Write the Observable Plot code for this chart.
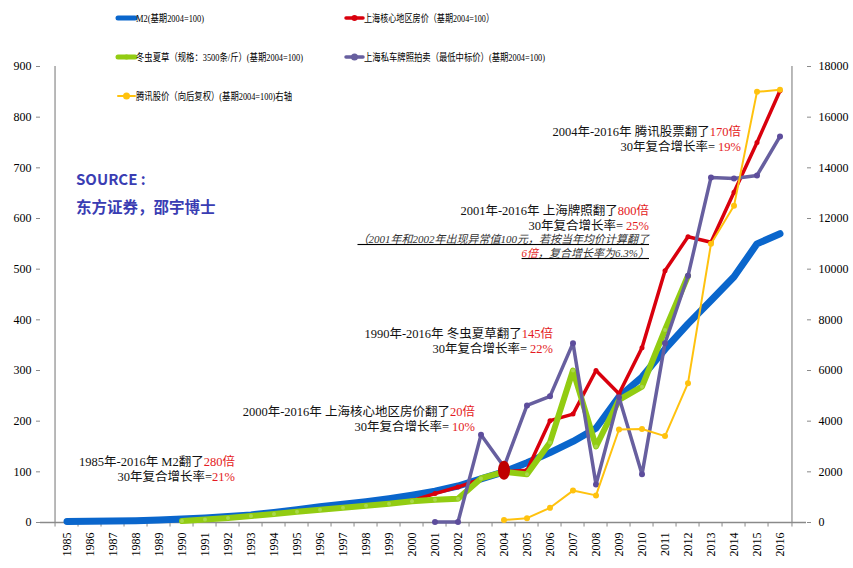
<!DOCTYPE html>
<html><head><meta charset="utf-8">
<script src="https://cdn.jsdelivr.net/npm/d3@7"></script>
<script src="https://cdn.jsdelivr.net/npm/@observablehq/plot@0.6"></script>
<style>
body{margin:0;background:#fff}
#chart{position:relative;width:853px;height:568px}
#chart svg [aria-label*="tick label"]{font-family:"Liberation Serif","Times New Roman",serif !important;font-size:12px !important}
</style>
</head><body><div id="chart"></div>
<script>
// ---------- data ----------
const years = [1985,1986,1987,1988,1989,1990,1991,1992,1993,1994,1995,1996,1997,1998,1999,2000,
               2001,2002,2003,2004,2005,2006,2007,2008,2009,2010,2011,2012,2013,2014,2015,2016];
const m2 =         [2,2.5,3,3.5,5,7,9,12,15,20,25,31,36,41,47,54,62,72,86,100,118,138,160,186,248,287,342,392,438,485,550,570];
const housePrice = [null,null,null,null,null,null,null,null,null,null,null,null,null,null,null,43,
                    57,70,86,100,103,201,214,300,254,345,497,564,553,652,750,852];
const cordyceps =  [null,null,null,null,null,3,6,9,13,17,21,25,29,33,37,42,
                    45,47,87,100,95,158,300,150,242,268,380,487,null,null,null,null];
const plate =      [null,null,null,null,null,null,null,null,null,null,null,null,null,null,null,null,
                    1,1,173,110,231,249,354,75,247,95,354,487,681,679,685,762];
const tencent =    [null,null,null,null,null,null,null,null,null,null,null,null,null,null,null,null,
                    null,null,null,100,170,580,1260,1070,3670,3690,3410,5500,11000,12500,17000,17080];
const leftTicks  = [0,100,200,300,400,500,600,700,800,900];
const rightTicks = [0,2000,4000,6000,8000,10000,12000,14000,16000,18000];

const legendLabels = [
  "M2(基期2004=100)",
  "上海核心地区房价（基期2004=100）",
  "冬虫夏草（规格：3500条/斤）(基期2004=100)",
  "上海私车牌照拍卖（最低中标价）(基期2004=100)",
  "腾讯股价（向后复权）(基期2004=100)右轴"
];
const notes = [
  [[["1985年-2016年 M2翻了",0],["280倍",1]], [["30年复合增长率=",0],["21%",1]]],
  [[["2000年-2016年 上海核心地区房价翻了",0],["20倍",1]], [["30年复合增长率= ",0],["10%",1]]],
  [[["1990年-2016年 冬虫夏草翻了",0],["145倍",1]], [["30年复合增长率= ",0],["22%",1]]],
  [[["2001年-2016年 上海牌照翻了",0],["800倍",1]], [["30年复合增长率= ",0],["25%",1]]],
  [[["2004年-2016年 腾讯股票翻了",0],["170倍",1]], [["30年复合增长率= ",0],["19%",1]]]
];
const italicNote = [[["（2001年和2002年出现异常值100元，若按当年均价计算翻了",0]], [["6倍",1],["，复合增长率为6.3%）",0]]];
const sourceLines = ["SOURCE :", "东方证券，邵宇博士"];

// ---------- style ----------
const C = {m2:"#0a66cc", house:"#d9000d", cord:"#92cc12", plate:"#675f9f", tx:"#ffc20e", axis:"#8a8a8a", note:"#e41a22", src:"#3a3db3"};
const serif = "Liberation Serif, Times New Roman, Noto Sans CJK SC, serif";
const W=853, H=568, ml=40, mr=47, mt=66, mb=46;
const bw = (W-ml-mr)/years.length;
const ratio = rightTicks[rightTicks.length-1]/leftTicks[leftTicks.length-1];
const tencentScaled = tencent.map(v => v == null ? null : v/ratio);

const ellipse = {draw(ctx){const rx=6,ry=9.5,k=0.5523;
  ctx.moveTo(rx,0); ctx.bezierCurveTo(rx,ry*k,rx*k,ry,0,ry); ctx.bezierCurveTo(-rx*k,ry,-rx,ry*k,-rx,0);
  ctx.bezierCurveTo(-rx,-ry*k,-rx*k,-ry,0,-ry); ctx.bezierCurveTo(rx*k,-ry,rx,-ry*k,rx,0); ctx.closePath();}};

const X = d => d;
const axisFont = {fontFamily: serif, fontSize: 12, fill: "#000"};
const chart = Plot.plot({
  width: W, height: H, marginLeft: ml, marginRight: mr, marginTop: mt, marginBottom: mb,
  style: {fontFamily: serif, fontSize: "12px", background: "#fff", color: "#000", overflow: "visible"},
  x: {type: "band", domain: years, padding: 0},
  y: {domain: [0, leftTicks[leftTicks.length-1]]},
  marks: [
    Plot.ruleX(years, {x: X, dx: -bw/2, y1: 0, y2: -9, stroke: C.axis}),
    Plot.ruleX([years[years.length-1]], {x: X, dx: bw/2, y1: 0, y2: -9, stroke: C.axis}),
    Plot.axisY(leftTicks, {...axisFont, tickSize: 4, tickPadding: 5, label: null, tickFormat: d => String(d), stroke: C.axis}),
    Plot.axisY(leftTicks, {...axisFont, anchor: "right", tickSize: 4, tickPadding: 8, label: null, tickFormat: d => String(d*ratio), stroke: C.axis}),
    Plot.axisX({...axisFont, tickSize: 0, tickRotate: -90, tickPadding: 10, label: null, tickFormat: d => String(d)}),
    Plot.ruleX([years[0]], {x: X, dx: -bw/2, y1: 0, y2: leftTicks[leftTicks.length-1], stroke: C.axis, strokeWidth: 1.2}),
    Plot.ruleX([years[years.length-1]], {x: X, dx: bw/2, y1: 0, y2: leftTicks[leftTicks.length-1], stroke: C.axis, strokeWidth: 1.2}),
    Plot.ruleY([0], {stroke: C.axis, strokeWidth: 1.5}),
    Plot.line(years, {x: X, y: m2, stroke: C.m2, strokeWidth: 7, strokeLinecap: "round", strokeLinejoin: "round"}),
    Plot.line(years, {x: X, y: housePrice, stroke: C.house, strokeWidth: 3.5, strokeLinejoin: "round"}),
    Plot.dot(years, {x: X, y: housePrice, r: 2.5, fill: C.house}),
    Plot.line(years, {x: X, y: cordyceps, stroke: C.cord, strokeWidth: 6, strokeLinecap: "round", strokeLinejoin: "round"}),
    Plot.dot(years, {x: X, y: cordyceps, r: 2, fill: "#a9d84a"}),
    Plot.line(years, {x: X, y: plate, stroke: C.plate, strokeWidth: 3.5, strokeLinejoin: "round"}),
    Plot.dot(years, {x: X, y: plate, r: 3, fill: "#5d4d9c"}),
    Plot.line(years, {x: X, y: tencentScaled, stroke: C.tx, strokeWidth: 2}),
    Plot.dot(years, {x: X, y: tencentScaled, r: 3, fill: C.tx}),
    Plot.dot([2004], {x: X, y: d => m2[years.indexOf(d)] + 3, symbol: ellipse, fill: "#c00000"})
  ]
});
document.getElementById("chart").appendChild(chart);

// ---------- overlays: legend, notes, source ----------
const svg = d3.select(chart);
const g = svg.append("g").attr("text-anchor", "start");
const legendItems = [
  {label: legendLabels[0], color: C.m2, w: 5, dot: 0, x: 117, y: 18, len: 68},
  {label: legendLabels[1], color: C.house, w: 3.5, dot: 2.5, x: 345, y: 18, len: 130},
  {label: legendLabels[2], color: C.cord, w: 5, dot: 2, x: 117, y: 57, len: 167},
  {label: legendLabels[3], color: C.plate, w: 3.5, dot: 3, x: 345, y: 57, len: 181},
  {label: legendLabels[4], color: C.tx, w: 2, dot: 3, x: 117, y: 96, len: 156}
];
for (const it of legendItems) {
  g.append("line").attr("x1", it.x+1).attr("x2", it.x+18).attr("y1", it.y).attr("y2", it.y)
    .attr("stroke", it.color).attr("stroke-width", it.w).attr("stroke-linecap", "round");
  if (it.dot) g.append("circle").attr("cx", it.x+9.5).attr("cy", it.y).attr("r", it.dot+0.5).attr("fill", it.color);
  g.append("text").attr("x", it.x+19).attr("y", it.y).attr("dy", "0.36em").attr("text-anchor", "start")
    .attr("font-family", serif).attr("font-size", 10.5)
    .attr("textLength", it.len).attr("lengthAdjust", "spacingAndGlyphs").text(it.label);
}
const notePos = [[235, 461], [475, 411], [553, 333], [649, 210], [741, 131]];
function addLine(x, y, parts, opts = {}) {
  const t = g.append("text").attr("x", x).attr("y", y).attr("dy", "0.36em").attr("text-anchor", "end")
    .attr("font-family", serif).attr("font-size", opts.size || 12.5);
  if (opts.italic) t.attr("font-style", "italic").attr("text-decoration", "underline");
  for (const [s, c] of parts) t.append("tspan").attr("fill", c ? C.note : (opts.italic ? "#333" : "#111")).text(s);
}
notes.forEach((n, i) => {
  const [x, y] = notePos[i];
  addLine(x, y, n[0]);
  addLine(x, y + 15.5, n[1]);
});
addLine(649, 239, italicNote[0], {italic: true, size: 11});
addLine(649, 253, italicNote[1], {italic: true, size: 11});
g.append("text").attr("x", 76).attr("y", 180).attr("dy", "0.36em").attr("text-anchor", "start").attr("fill", C.src)
  .attr("font-family", "Noto Sans CJK SC, sans-serif").attr("font-weight", "bold").attr("font-size", 15).text(sourceLines[0]);
g.append("text").attr("x", 76).attr("y", 207).attr("dy", "0.36em").attr("text-anchor", "start").attr("fill", C.src)
  .attr("font-family", "Noto Sans CJK SC, sans-serif").attr("font-weight", "bold").attr("font-size", 15.5).text(sourceLines[1]);
</script>
</body></html>
